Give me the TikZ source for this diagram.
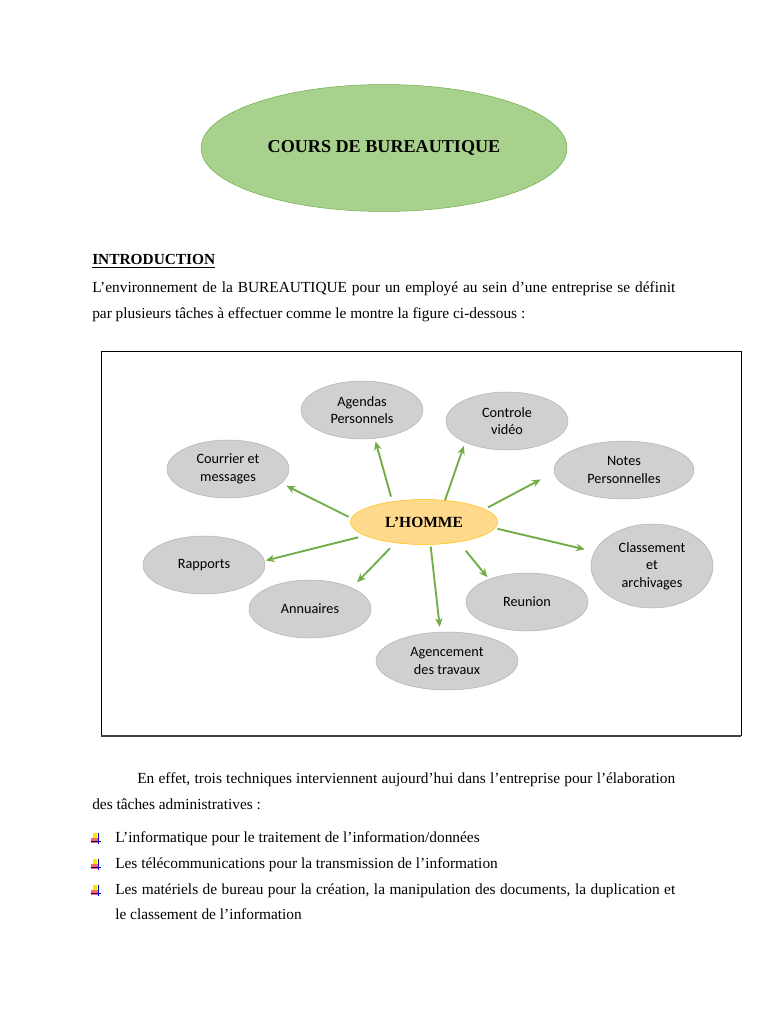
\documentclass[tikz,border=0pt]{standalone}
\usepackage{fontspec}
\setmainfont{Liberation Serif}
\newfontfamily\calibri{Carlito}
\usetikzlibrary{shapes.geometric,arrows.meta}

\definecolor{titlegreen}{HTML}{A9D18E}
\definecolor{linegreen}{HTML}{70AD47}
\definecolor{peach}{HTML}{FFD98C}
\definecolor{gold}{HTML}{FFC000}
\definecolor{bubble}{HTML}{D0D0D0}
\definecolor{bubbleline}{HTML}{B0B0B0}

\tikzset{
  task/.style={ellipse, draw=bubbleline, fill=bubble, inner sep=0pt, align=center,
    font=\calibri\fontsize{11.4}{14}\selectfont, minimum width=97.6pt, minimum height=46.4pt},
  arr/.style={-{Stealth[length=7pt,width=6pt]}, draw=linegreen, line width=1.5pt},
  txt/.style={anchor=base west, inner sep=0pt, font=\fontsize{12.3}{14}\selectfont},
  puce/.pic={
    \fill[yellow!90!orange] (-4,-5) rectangle (0,0);
    \fill[red!60!white] (-6,0) rectangle (1,5);
    \draw[blue!50!black, line width=0.5pt] (-6,3) -- (4,3);
    \draw[blue!85!black, line width=1.1pt] (1.5,-5) -- (1.5,6);
  }
}

\begin{document}
\begin{tikzpicture}[x=0.8pt, y=-0.8pt]
  \useasboundingbox (0,0) rectangle (768,1024);
  % titre
  \node[ellipse, draw=linegreen, fill=titlegreen, minimum width=292.8pt, minimum height=101.6pt,
    font=\bfseries\fontsize{14.5}{16}\selectfont] (titre) at (384,148) {COURS DE BUREAUTIQUE};
  \node[txt, font=\bfseries\fontsize{12.3}{14}\selectfont] (intro) at (92,265) {\underline{INTRODUCTION}};
  \node[txt] (l1) at (92,292)
    {\makebox[466.4pt][s]{L’environnement de la BUREAUTIQUE pour un employé au sein d’une entreprise se définit}};
  \node[txt] (l2) at (92,318)
    {par plusieurs tâches à effectuer comme le montre la figure ci-dessous :};

  % la figure
  \draw (101,736) -- (101,351) -- (741,351) -- (741,736);
  \draw[black!75, line width=1.5pt] (101,736) -- (741,736);
  \node[ellipse, draw=gold, fill=peach, minimum width=117.6pt, minimum height=36pt, inner sep=0pt,
    font=\bfseries\fontsize{12.4}{14}\selectfont] (homme) at (424,522) {L’HOMME};
  \node[task] (agendas) at (362,410) {Agendas\\Personnels};
  \node[task] (controle) at (507,421) {Controle\\vidéo};
  \node[task] (courrier) at (228,469) {Courrier et\\messages};
  \node[task, minimum width=112pt] (notes) at (624,470) {Notes\\Personnelles};
  \node[task] (rapports) at (204,565) {Rapports};
  \node[task, minimum height=67.2pt] (classement) at (652,566) {Classement\\et\\archivages};
  \node[task] (reunion) at (527,602) {Reunion};
  \node[task] (annuaires) at (310,609) {Annuaires};
  \node[task, minimum width=113.6pt] (agencement) at (447,661) {Agencement\\des travaux};

  \draw[arr, shorten <=4pt, shorten >=2.4pt] (homme.147) -- (agendas.-66);
  \draw[arr, shorten <=2.4pt, shorten >=4.5pt] (homme.177) -- (courrier.-15);
  \draw[arr, shorten >=3pt] (homme.46) -- (controle.-153);
  \draw[arr, shorten <=3pt, shorten >=12pt] (homme.12) -- (notes.-178);
  \draw[arr, shorten <=2pt, shorten >=8pt] (homme.-5) -- (classement.166);
  \draw[arr, shorten <=5.5pt, shorten >=1pt] (homme.-167) -- (rapports.4);
  \draw[arr, shorten <=6pt, shorten >=6pt] (homme.-144) -- (annuaires.27);
  \draw[arr, shorten <=1.5pt, shorten >=4pt] (homme.-74) -- (agencement.103);
  \draw[arr, shorten <=9pt, shorten >=2pt] (homme.-30) -- (reunion.149);

  % suite du texte
  \node[txt] (l3) at (137,783)
    {\makebox[430.4pt][s]{En effet, trois techniques interviennent aujourd’hui dans l’entreprise pour l’élaboration}};
  \node[txt] (l4) at (92,809) {des tâches administratives :};
  \pic at (97,838) {puce};
  \pic at (97,864) {puce};
  \pic at (97,890) {puce};
  \node[txt] (b1) at (115,842) {L’informatique pour le traitement de l’information/données};
  \node[txt] (b2) at (115,868) {Les télécommunications pour la transmission de l’information};
  \node[txt] (b3) at (115,894)
    {\makebox[448pt][s]{Les matériels de bureau pour la création, la manipulation des documents, la duplication et}};
  \node[txt] (b4) at (115,919) {le classement de l’information};
\end{tikzpicture}
\end{document}
